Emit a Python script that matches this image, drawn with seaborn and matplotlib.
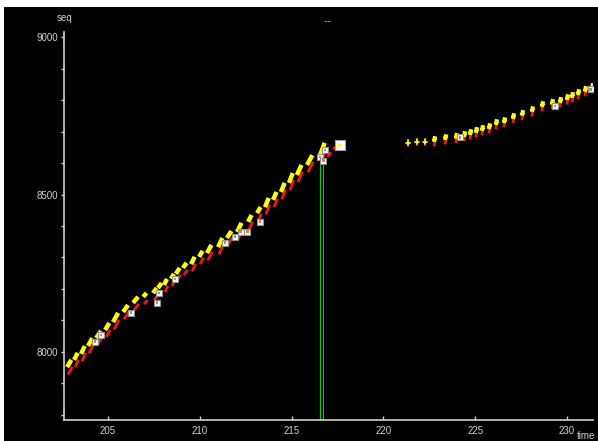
import matplotlib
matplotlib.use("Agg")
import matplotlib.pyplot as plt
import seaborn as sns
import pandas as pd
from matplotlib.ticker import MultipleLocator

# segment data (time, seq)
seg_t0 = [202.77, 203.15, 203.53, 203.91, 204.35, 204.84, 205.27, 205.82, 206.36, 206.91,
          207.45, 207.72, 208.05, 208.43, 208.70, 209.08, 209.52, 209.96, 210.39, 210.99,
          211.48, 212.03, 212.63, 213.12, 213.55, 213.99, 214.42, 214.86, 215.29, 215.84, 216.55]
seg_t1 = [203.00, 203.35, 203.73, 204.14, 204.62, 205.07, 205.55, 206.09, 206.64, 207.10,
          207.65, 207.92, 208.21, 208.59, 208.90, 209.28, 209.72, 210.15, 210.63, 211.23,
          211.72, 212.27, 212.82, 213.31, 213.75, 214.18, 214.62, 215.06, 215.54, 216.13, 216.80]
seg_s0 = [7952, 7975, 7994, 8019, 8044, 8070, 8095, 8127, 8156, 8175,
          8187, 8203, 8213, 8232, 8248, 8267, 8279, 8302, 8314, 8333,
          8362, 8381, 8413, 8441, 8460, 8483, 8508, 8537, 8562, 8594, 8625]
seg_s1 = [7975, 7997, 8019, 8044, 8067, 8092, 8124, 8149, 8175, 8187,
          8203, 8219, 8232, 8248, 8267, 8283, 8302, 8321, 8340, 8362,
          8384, 8410, 8435, 8460, 8489, 8508, 8537, 8568, 8594, 8625, 8664]
# red (lagging) segments under each yellow one
red_s0 = [7928, 7952, 7970, 7996, 8021, 8047, 8072, 8104, 8133, 8152,
          8164, 8180, 8190, 8209, 8225, 8244, 8256, 8279, 8291, 8310,
          8339, 8358, 8390, 8418, 8437, 8460, 8485, 8514, 8539, 8571, 8602]
red_s1 = [7953, 7975, 7997, 8022, 8045, 8070, 8102, 8127, 8153, 8165,
          8181, 8197, 8210, 8226, 8245, 8261, 8280, 8299, 8318, 8340,
          8362, 8388, 8413, 8438, 8467, 8486, 8515, 8546, 8572, 8603, 8640]
gap_red_t0 = [217.00, 217.30]
gap_red_t1 = [217.12, 217.46]
gap_red_s0 = [8622, 8646]
gap_red_s1 = [8632, 8655]

# second phase: small segments
late_t = [221.34, 221.83, 222.27, 222.76, 223.36, 223.95, 224.39, 224.72, 225.04, 225.37,
          225.75, 226.13, 226.57, 227.06, 227.55, 228.09, 228.64, 229.18, 229.62, 230.00,
          230.27, 230.60, 230.98, 231.36]
late_s = [8664, 8667, 8667, 8673, 8679, 8683, 8689, 8695, 8702, 8708,
          8714, 8727, 8733, 8746, 8756, 8768, 8784, 8791, 8797, 8806,
          8813, 8822, 8832, 8841]

# white boxes
box_t = [204.29, 204.62, 206.25, 207.67, 207.78, 208.65, 211.37, 211.92, 212.23, 212.59,
         213.28, 216.55, 216.73, 216.82, 224.17, 229.35, 231.29]
box_s = [8033, 8054, 8125, 8157, 8187, 8232, 8347, 8366, 8382, 8382,
         8414, 8619, 8607, 8641, 8682, 8781, 8834]
big_box_t = [217.64]
big_box_s = [8657]

# green vertical lines
green_t = [216.55, 216.73]
green_top = [8630, 8640]

x_ticks = [205, 210, 215, 220, 225, 230]
y_ticks = [8000, 8500, 9000]

sns.set_style("dark")
plt.rcParams['font.family'] = ['Liberation Sans', 'DejaVu Sans']

W, H = 598, 441
fig = plt.figure(figsize=(W / 100, H / 100), dpi=100, facecolor="white")
bg = fig.add_axes([4 / W, 0, (W - 4) / W, (H - 7) / H])
bg.set_facecolor("black")
bg.set_xticks([])
bg.set_yticks([])
for sp in bg.spines.values():
    sp.set_visible(False)

ax = fig.add_axes([64 / W, (H - 420) / H, (593 - 64) / W, (420 - 32) / H])
ax.set_facecolor("none")
ax.set_xlim(202.6, 231.42)
ax.set_ylim(7784, 9016)

fg = "#d0d0d0"
ax.vlines(green_t, 7784, green_top, colors="#00d000", linewidth=0.8, zorder=2)

for a, b, c, d in zip(seg_t0, seg_t1, red_s0, red_s1):
    ax.plot([a + 0.05, b + 0.05], [c, d], color="#ff1010", linewidth=2.0,
            solid_capstyle="butt", zorder=3)
for a, b, c, d in zip(gap_red_t0, gap_red_t1, gap_red_s0, gap_red_s1):
    ax.plot([a, b], [c, d], color="#ff1010", linewidth=2.0, zorder=3)
for a, b, c, d in zip(seg_t0, seg_t1, seg_s0, seg_s1):
    ax.plot([a, b], [c, d], color="#ffff00", linewidth=3.2,
            solid_capstyle="butt", zorder=4)

for i, (t, s) in enumerate(zip(late_t, late_s)):
    if i < 3:
        ax.plot([t, t], [s - 10, s - 2], color="#ff1010", linewidth=1.5, zorder=3)
        ax.plot([t, t], [s - 6, s + 8], color="#ffff00", linewidth=1.3, zorder=4)
        ax.plot([t - 0.1, t + 0.1], [s, s], color="#ffff00", linewidth=1.3, zorder=4)
    else:
        ax.plot([t, t + 0.03], [s - 20, s - 6], color="#ff1010", linewidth=2.0,
                solid_capstyle="butt", zorder=3)
        ax.plot([t, t + 0.06], [s - 6, s + 12], color="#ffff00", linewidth=3.0,
                solid_capstyle="butt", zorder=4)
        ax.plot([t - 0.1, t + 0.1], [s + 4, s + 4], color="#ffff00", linewidth=1.0, zorder=4)

boxes = pd.DataFrame({"t": box_t, "s": box_s})
sns.scatterplot(data=boxes, x="t", y="s", marker="s", s=24, color="#f4f4f4",
                edgecolor="#909090", linewidth=0.8, ax=ax, zorder=5)
sns.scatterplot(data=boxes, x="t", y="s", marker="s", s=4, color="#b09060",
                edgecolor="none", ax=ax, zorder=6)
big = pd.DataFrame({"t": big_box_t, "s": big_box_s})
sns.scatterplot(data=big, x="t", y="s", marker="s", s=60, color="#ffffff",
                edgecolor="#a0a0a0", linewidth=0.8, ax=ax, zorder=5)
sns.scatterplot(data=big, x="t", y="s", marker=">", s=12, color="#ffff00",
                edgecolor="none", ax=ax, zorder=6)

ax.set_xlabel("")
ax.set_ylabel("")
ax.set_xticks(x_ticks)
ax.set_yticks(y_ticks)
ax.yaxis.set_minor_locator(MultipleLocator(100))
ax.tick_params(axis="y", which="both", direction="out", length=2.5, width=1,
               color=fg, labelcolor=fg, labelsize=7, pad=1.5, left=True)
ax.tick_params(axis="x", which="both", direction="in", length=3, width=1,
               color=fg, labelcolor=fg, labelsize=7, pad=4, bottom=True)
ax.grid(False)
for name in ["top", "right"]:
    ax.spines[name].set_visible(False)
for name in ["left", "bottom"]:
    ax.spines[name].set_visible(True)
    ax.spines[name].set_color(fg)
    ax.spines[name].set_linewidth(1.2)

fig.text(64.5 / W, 1 - 18 / H, "seq", color=fg, fontsize=7, ha="center", va="center")
fig.text(586 / W, 1 - 436 / H, "time", color=fg, fontsize=7, ha="center", va="center")
fig.text(328 / W, 1 - 22 / H, "--", color="#a0a0a0", fontsize=9, ha="center", va="center")

fig.savefig("out.png", dpi=100, facecolor=fig.get_facecolor())
